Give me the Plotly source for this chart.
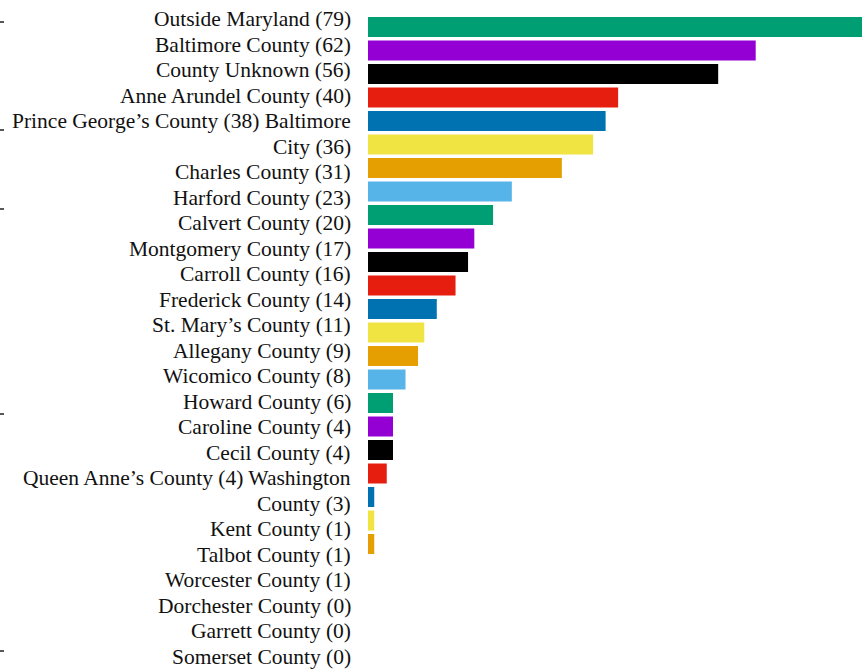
import textwrap
import plotly.graph_objects as go

# Counts by county of residence
counties = [
    "Outside Maryland", "Baltimore County", "County Unknown", "Anne Arundel County",
    "Prince George’s County", "Baltimore City", "Charles County", "Harford County",
    "Calvert County", "Montgomery County", "Carroll County", "Frederick County",
    "St. Mary’s County", "Allegany County", "Wicomico County", "Howard County",
    "Caroline County", "Cecil County", "Queen Anne’s County", "Washington County",
    "Kent County", "Talbot County", "Worcester County", "Dorchester County",
    "Garrett County", "Somerset County",
]
counts = [79, 62, 56, 40, 38, 36, 31, 23, 20, 17, 16, 14, 11, 9, 8, 6, 4, 4, 4, 3,
          1, 1, 1, 0, 0, 0]

# Label pairs that run together in one paragraph of the side text
run_on_pairs = [(4, 5), (18, 19)]

palette = ["#009E73", "#9400D3", "#000000", "#E51E10",
           "#0072B2", "#F0E442", "#E69F00", "#56B4E9"]

# Pixel rows of the small edge ticks at the far left
edge_ticks = [22, 130, 209, 414, 651]

W, H = 865, 670
bar_left, bar_right = 368, 862
plot_top, plot_bottom = 15.25, 626.25

labels = [f"{c} ({v})" for c, v in zip(counties, counts)]
colors = [palette[i % len(palette)] for i in range(len(counts))]

# Build paragraphs, then wrap them like a fixed-width text column
paragraphs = []
skip = set()
pair_start = {a: b for a, b in run_on_pairs}
for i, lab in enumerate(labels):
    if i in skip:
        continue
    if i in pair_start:
        j = pair_start[i]
        paragraphs.append(lab + " " + labels[j])
        skip.add(j)
    else:
        paragraphs.append(lab)
lines = []
for p in paragraphs:
    lines.extend(textwrap.wrap(p, width=37))

fig = go.Figure()
fig.add_trace(go.Bar(
    x=counts, y=counties, orientation="h",
    marker=dict(color=colors, line=dict(width=0)),
    hoverinfo="x+y",
))

line_step = 25.5
first_mid = 19.2
annotations = []
for k, txt in enumerate(lines):
    ypix = first_mid + k * line_step
    annotations.append(dict(
        text=txt, xref="paper", yref="paper",
        x=352 / W, y=1 - ypix / H, xanchor="right", yanchor="middle",
        showarrow=False, borderpad=0,
        font=dict(family="Liberation Serif", size=21.5, color="#111111"),
    ))

# Small dashes along the left edge of the page
shapes = [
    dict(type="line", xref="paper", yref="paper",
         x0=0, x1=4 / W, y0=1 - t / H, y1=1 - t / H,
         line=dict(color="#222222", width=1.5))
    for t in edge_ticks
]

fig.update_layout(
    width=W, height=H,
    margin=dict(l=0, r=0, t=0, b=0, pad=0),
    paper_bgcolor="white", plot_bgcolor="white",
    showlegend=False,
    bargap=0.149,
    xaxis=dict(domain=[bar_left / W, bar_right / W], range=[0, 79],
               visible=False, fixedrange=True),
    yaxis=dict(domain=[1 - plot_bottom / H, 1 - plot_top / H],
               categoryorder="array", categoryarray=counties,
               range=[len(counties) - 0.5, -0.5],
               visible=False),
    annotations=annotations,
    shapes=shapes,
)

fig.write_html("out.html")
